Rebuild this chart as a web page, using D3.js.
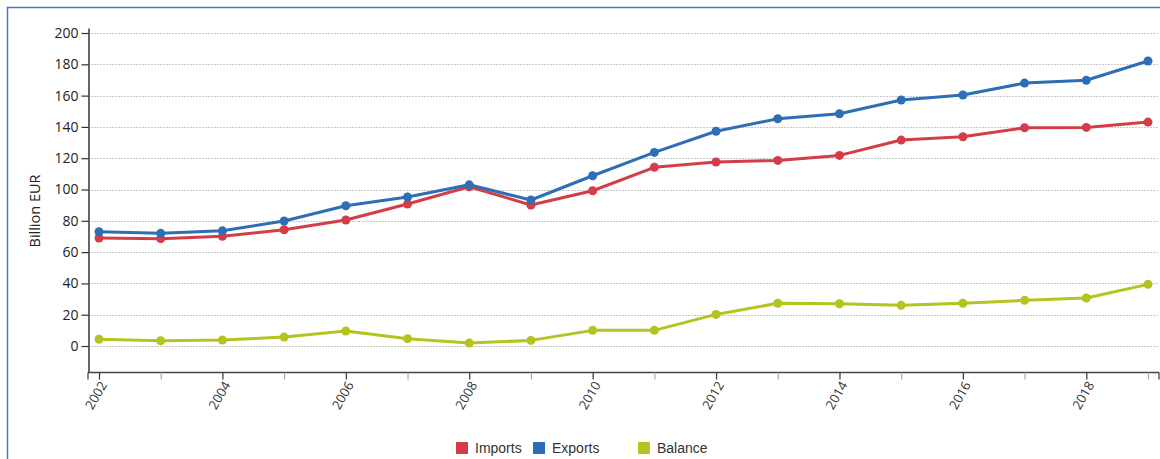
<!DOCTYPE html>
<html>
<head>
<meta charset="utf-8">
<script src="https://cdn.jsdelivr.net/npm/d3@7"></script>
<style>
html,body{margin:0;padding:0;background:#fff;}
svg{display:block;}
</style>
</head>
<body>
<svg id="chart" width="1160" height="459"></svg>
<script>
const years = [2002,2003,2004,2005,2006,2007,2008,2009,2010,2011,2012,2013,2014,2015,2016,2017,2018,2019];
const imports = [69.0,68.6,70.1,74.3,80.5,90.7,101.8,90.1,99.2,114.2,117.6,118.6,121.8,131.6,133.7,139.5,139.7,143.1];
const exports = [73.0,72.0,73.6,79.9,89.6,95.2,103.0,93.3,108.8,123.7,137.2,145.2,148.4,157.2,160.4,168.0,169.8,182.1];
const balance = [4.3,3.4,3.8,5.7,9.6,4.7,1.9,3.6,10.0,10.0,20.2,27.3,27.0,26.0,27.3,29.2,30.7,39.4];
const seriesNames = ["Imports","Exports","Balance"];
const seriesColors = ["#d43c48","#2e6eb5","#b4c31f"];
const yTicks = [0,20,40,60,80,100,120,140,160,180,200];
const yLabel = "Billion EUR";

const svg = d3.select("#chart");
const font = "'Open Sans', 'Liberation Sans', sans-serif";

// frame
svg.append("rect").attr("x",7.5).attr("y",7.5).attr("width",1170).attr("height",470)
  .attr("fill","#fff").attr("stroke","#3b7fc2").attr("stroke-width",1.5);

const plotLeft = 88, plotRight = 1159, plotTop = 28, plotBottom = 372;
const x = d3.scaleLinear().domain([2002,2019]).range([99,1148]);
const y = d3.scaleLinear().domain([-16.6,203.2]).range([plotBottom,plotTop]);

// gridlines
svg.append("g").selectAll("line").data(yTicks).join("line")
  .attr("x1",plotLeft).attr("x2",plotRight)
  .attr("y1",d=>Math.round(y(d))+0.5).attr("y2",d=>Math.round(y(d))+0.5)
  .attr("stroke","#c8c8c8").attr("stroke-width",1).attr("stroke-dasharray","2,1");

// y axis
const yAxis = svg.append("g").attr("transform",`translate(${plotLeft+0.5},0)`)
  .call(d3.axisLeft(y).tickValues(yTicks).tickSize(7).tickPadding(3).tickSizeOuter(0));
yAxis.select(".domain").attr("stroke","#333").attr("stroke-width",1.5);
yAxis.selectAll(".tick line").attr("stroke","#333").attr("stroke-width",1.2);
yAxis.selectAll(".tick text").attr("font-family",font).attr("font-size",14).attr("fill","#222");

// y label
svg.append("text").attr("transform","translate(40,211) rotate(-90)")
  .attr("text-anchor","middle").attr("font-family",font).attr("font-size",14.5)
  .attr("fill","#222").text(yLabel);

// x axis
const xAxisG = svg.append("g").attr("transform",`translate(0,${plotBottom+0.5})`);
xAxisG.append("line").attr("x1",plotLeft).attr("x2",plotRight).attr("stroke","#444").attr("stroke-width",1.5);
xAxisG.append("line").attr("x1",plotRight).attr("x2",plotRight).attr("y1",0).attr("y2",7).attr("stroke","#333").attr("stroke-width",1.2);
xAxisG.append("line").attr("x1",plotLeft).attr("x2",plotLeft).attr("y1",0).attr("y2",7).attr("stroke","#333").attr("stroke-width",1.2);
const xa = xAxisG.append("g")
  .call(d3.axisBottom(x).tickValues(years).tickSize(7).tickFormat(d=> d%2===0 ? String(d) : ""));
xa.select(".domain").remove();
xa.selectAll(".tick line").attr("stroke",d=> d%2===0 ? "#333" : "#aaa").attr("stroke-width",1.2);
xa.selectAll(".tick text").attr("font-family",font).attr("font-size",13).attr("fill","#333")
  .attr("text-anchor","end").attr("dy","0.35em")
  .attr("transform","translate(4,10) rotate(-60)")
  .attr("y",0).attr("x",0);

// lines
const dataSets = [imports, exports, balance];
const line = d3.line().x((d,i)=>x(years[i])).y(d=>y(d));
[2,0,1].forEach(k=>{
  const vals = dataSets[k];
  const g = svg.append("g");
  g.append("path").datum(vals).attr("d",line).attr("fill","none")
    .attr("stroke",seriesColors[k]).attr("stroke-width",3).attr("stroke-linejoin","round");
  g.selectAll("circle").data(vals).join("circle")
    .attr("cx",(d,i)=>x(years[i])).attr("cy",d=>y(d)).attr("r",4.5)
    .attr("fill",seriesColors[k]);
});

// legend
const legendX = [456, 533, 638];
const lg = svg.append("g");
seriesNames.forEach((name,i)=>{
  lg.append("rect").attr("x",legendX[i]).attr("y",442).attr("width",12).attr("height",12).attr("fill",seriesColors[i]);
  lg.append("text").attr("x",legendX[i]+19).attr("y",453).attr("font-family","'Liberation Sans', Arial, sans-serif")
    .attr("font-size",14).attr("fill","#333").text(name);
});
</script>
</body>
</html>
